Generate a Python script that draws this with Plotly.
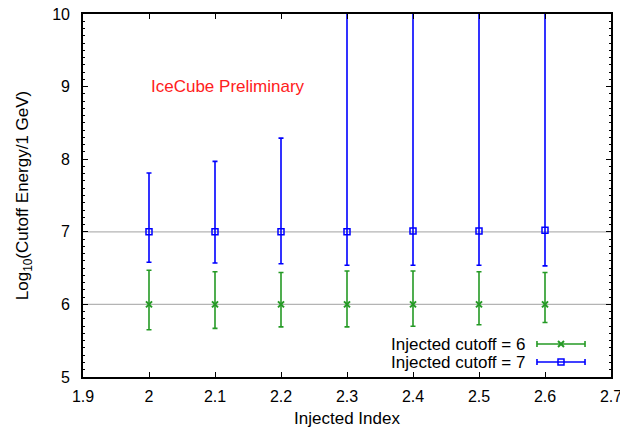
import plotly.graph_objects as go

# ---- data ----
injected_index = [2.0, 2.1, 2.2, 2.3, 2.4, 2.5, 2.6]

fit6 = [6.00, 6.00, 6.00, 6.00, 6.00, 6.00, 6.00]
fit6_hi = [6.47, 6.45, 6.44, 6.46, 6.46, 6.45, 6.44]
fit6_lo = [5.65, 5.67, 5.69, 5.69, 5.70, 5.72, 5.75]

fit7 = [7.00, 7.00, 7.00, 7.00, 7.01, 7.01, 7.02]
fit7_hi = [7.81, 7.97, 8.29, 11.0, 11.0, 11.0, 11.0]
fit7_lo = [6.58, 6.57, 6.56, 6.54, 6.54, 6.54, 6.53]

injected_cutoffs = [6, 7]
series_names = ["Injected cutoff = 6", "Injected cutoff = 7"]
x_ticks = [1.9, 2.0, 2.1, 2.2, 2.3, 2.4, 2.5, 2.6, 2.7]
y_ticks = [5, 6, 7, 8, 9, 10]

GREEN = "#259a25"
BLUE = "#0000ff"
FONT = "Liberation Sans, Arial, Helvetica, sans-serif"
TXT = 17
TICK = 16

fig = go.Figure()

fig.add_trace(go.Scatter(
    x=injected_index, y=fit6, mode="markers", name=series_names[0],
    marker=dict(symbol="x-thin-open", size=6, color=GREEN, line=dict(color=GREEN, width=2)),
    error_y=dict(type="data", symmetric=False,
                 array=[h - c for h, c in zip(fit6_hi, fit6)],
                 arrayminus=[c - l for c, l in zip(fit6, fit6_lo)],
                 color=GREEN, thickness=1.6, width=2.5),
    showlegend=False,
))
fig.add_trace(go.Scatter(
    x=injected_index, y=fit7, mode="markers", name=series_names[1],
    marker=dict(symbol="square-open", size=6, color=BLUE, line=dict(color=BLUE, width=1.5)),
    error_y=dict(type="data", symmetric=False,
                 array=[h - c for h, c in zip(fit7_hi, fit7)],
                 arrayminus=[c - l for c, l in zip(fit7, fit7_lo)],
                 color=BLUE, thickness=1.6, width=2.5),
    showlegend=False,
))

shapes = []
# horizontal reference lines at injected cutoffs
for c in injected_cutoffs:
    shapes.append(dict(type="line", xref="paper", x0=0, x1=1, yref="y", y0=c, y1=c,
                       line=dict(color="#b4b4b4", width=1.2), layer="below"))

# manual legend (key on the right of the text, as in the reference)
leg_rows = [(0.0909, GREEN, "x"), (0.0413, BLUE, "square")]
key_x0, key_x1, key_xm, text_x = 0.8598, 0.9508, 0.9053, 0.8409
annotations = []
for (yy, col, sym), name in zip(leg_rows, series_names):
    shapes.append(dict(type="line", xref="paper", yref="paper", x0=key_x0, x1=key_x1, y0=yy, y1=yy,
                       line=dict(color=col, width=1.6)))
    for xe in (key_x0, key_x1):
        shapes.append(dict(type="line", xref="paper", yref="paper", xsizemode="pixel", ysizemode="pixel",
                           xanchor=xe, yanchor=yy, x0=0, x1=0, y0=-3, y1=3,
                           line=dict(color=col, width=1.6)))
    if sym == "square":
        shapes.append(dict(type="rect", xref="paper", yref="paper", xsizemode="pixel", ysizemode="pixel",
                           xanchor=key_xm, yanchor=yy, x0=-3, x1=3, y0=-3, y1=3,
                           line=dict(color=col, width=1.5), fillcolor="rgba(0,0,0,0)"))
    else:
        for a, b in ((-3, 3), (3, -3)):
            shapes.append(dict(type="line", xref="paper", yref="paper", xsizemode="pixel", ysizemode="pixel",
                               xanchor=key_xm, yanchor=yy, x0=-3, x1=3, y0=a, y1=b,
                               line=dict(color=col, width=2)))
    annotations.append(dict(text=name, xref="paper", yref="paper", x=text_x, y=yy,
                            xanchor="right", yanchor="middle", showarrow=False,
                            font=dict(family=FONT, size=TXT, color="black")))

annotations.append(dict(text="IceCube Preliminary", x=2.0, y=9.0, xref="x", yref="y",
                        xanchor="left", yanchor="middle", showarrow=False,
                        font=dict(family=FONT, size=TXT, color="#ff2020")))

fig.update_layout(
    width=620, height=432,
    margin=dict(l=83, r=9, t=14, b=55),
    paper_bgcolor="white", plot_bgcolor="white",
    font=dict(family=FONT, size=TXT, color="black"),
    shapes=shapes, annotations=annotations,
    showlegend=False,
)
fig.update_xaxes(
    range=[1.9, 2.7], tickvals=x_ticks, ticktext=[f"{v:g}" for v in x_ticks],
    automargin=False, ticklabeloverflow="allow",
    showgrid=False, zeroline=False,
    showline=True, linecolor="black", linewidth=1.6, mirror="ticks",
    ticks="inside", ticklen=5, tickwidth=1.2, tickcolor="black",
    ticklabelstandoff=4,
    tickfont=dict(family=FONT, size=TICK),
    title=dict(text="Injected Index", font=dict(family=FONT, size=TXT), standoff=8),
)
fig.update_yaxes(
    range=[5, 10], tickvals=y_ticks,
    automargin=False, ticklabeloverflow="allow",
    showgrid=False, zeroline=False,
    showline=True, linecolor="black", linewidth=1.6, mirror="ticks",
    ticks="inside", ticklen=5, tickwidth=1.2, tickcolor="black",
    ticklabelstandoff=8,
    minor=dict(dtick=0.1, ticks="inside", ticklen=2.5, tickwidth=1, tickcolor="black", showgrid=False),
    tickfont=dict(family=FONT, size=TICK),
    title=dict(text="Log<sub>10</sub>(Cutoff Energy/1 GeV)", font=dict(family=FONT, size=TXT), standoff=19),
)

fig.write_html("out.html")
